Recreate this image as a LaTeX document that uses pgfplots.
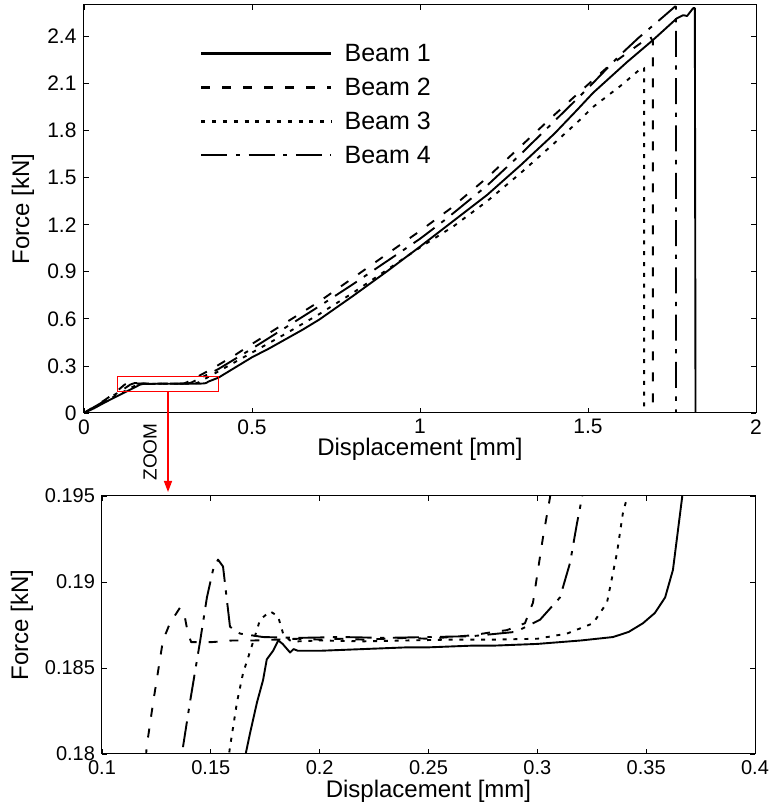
\documentclass[border=0pt]{standalone}
\usepackage{fontspec}
\setmainfont{Liberation Sans}
\usepackage{pgfplots}
\usepackage{pgfplotstable}
\pgfplotsset{compat=1.18}
\usetikzlibrary{arrows.meta}

\pgfplotstableread{
x y
0 0
0.03 0.03
0.06 0.065
0.09 0.098
0.12 0.13
0.15 0.162
0.166 0.18
0.168 0.1812
0.1712 0.1830
0.174 0.1843
0.1757 0.1855
0.1786 0.1860
0.181 0.1866
0.183 0.1864
0.1864 0.1859
0.188 0.1861
0.19 0.1860
0.20 0.1860
0.21 0.18605
0.22 0.1861
0.23 0.18615
0.24 0.1862
0.25 0.1862
0.26 0.18625
0.27 0.1863
0.28 0.1863
0.29 0.18635
0.30 0.1864
0.31 0.1865
0.32 0.1866
0.3348 0.1868
0.3420 0.1871
0.3485 0.1876
0.354 0.1882
0.3587 0.1891
0.3623 0.1907
0.3665 0.1949
0.370 0.2
0.40 0.225
0.45 0.29
0.50 0.355
0.55 0.41
0.60 0.47
0.65 0.53
0.70 0.595
0.80 0.745
0.90 0.90
1.00 1.06
1.10 1.225
1.20 1.39
1.30 1.58
1.40 1.78
1.467 1.93
1.515 2.04
1.616 2.236
1.693 2.376
1.765 2.516
1.783 2.535
1.795 2.53
1.813 2.58
1.818 2.58
1.82 0
}\beamA

\pgfplotstableread{
x y
0 0
0.03 0.04
0.06 0.08
0.09 0.125
0.115 0.17
0.1205 0.1804
0.1235 0.1830
0.128 0.1866
0.1312 0.1876
0.1358 0.1885
0.138 0.1880
0.1395 0.1870
0.141 0.1865
0.15 0.1865
0.16 0.1866
0.17 0.1866
0.18 0.18665
0.19 0.1867
0.20 0.18665
0.21 0.1867
0.22 0.18665
0.23 0.1867
0.24 0.18675
0.25 0.1867
0.26 0.1868
0.27 0.1869
0.28 0.1871
0.286 0.1872
0.2943 0.1876
0.298 0.1888
0.3026 0.1926
0.3058 0.1949
0.31 0.2
0.375 0.274
0.45 0.37
0.50 0.44
0.60 0.575
0.70 0.71
0.80 0.86
0.90 1.01
1.00 1.16
1.089 1.30
1.20 1.50
1.30 1.70
1.40 1.90
1.467 2.03
1.556 2.20
1.62 2.30
1.685 2.40
1.69 2.38
1.693 2.37
1.693 0
}\beamB

\pgfplotstableread{
x y
0 0
0.03 0.035
0.06 0.07
0.09 0.105
0.12 0.138
0.15 0.172
0.1588 0.1804
0.162 0.1830
0.1648 0.1847
0.1694 0.1865
0.1726 0.1878
0.1772 0.1883
0.1809 0.1880
0.1832 0.1870
0.1864 0.1866
0.19 0.18655
0.20 0.1866
0.22 0.18655
0.24 0.1866
0.26 0.18665
0.28 0.18665
0.30 0.1867
0.3136 0.1870
0.3256 0.1876
0.332 0.1888
0.3366 0.1917
0.3393 0.1940
0.3412 0.1949
0.345 0.20
0.40 0.265
0.50 0.385
0.60 0.505
0.70 0.63
0.80 0.765
0.90 0.91
1.00 1.055
1.10 1.19
1.20 1.35
1.30 1.53
1.40 1.72
1.467 1.85
1.515 1.95
1.60 2.09
1.66 2.20
1.667 2.20
1.667 0
}\beamC

\pgfplotstableread{
x y
0 0
0.03 0.038
0.06 0.075
0.09 0.115
0.12 0.155
0.1372 0.1804
0.1404 0.1830
0.145 0.1865
0.1482 0.1891
0.151 0.1907
0.1533 0.1913
0.1556 0.1909
0.1588 0.1874
0.1634 0.1870
0.174 0.1868
0.19 0.18675
0.21 0.1868
0.23 0.18675
0.25 0.1868
0.27 0.18685
0.29 0.1871
0.3012 0.1878
0.3104 0.1891
0.315 0.1911
0.3182 0.1934
0.3205 0.1949
0.325 0.20
0.40 0.28
0.50 0.41
0.60 0.545
0.70 0.68
0.80 0.82
0.90 0.965
1.00 1.11
1.08 1.24
1.20 1.45
1.30 1.65
1.40 1.86
1.50 2.07
1.595 2.28
1.65 2.39
1.724 2.525
1.759 2.59
1.762 2.59
1.762 0
}\beamD

\pgfplotsset{
  myaxis/.style={
    scale only axis,
    anchor=south west,
    tick align=inside,
    major tick length=5pt,
    axis line style={line width=1pt},
    every tick/.style={black,line width=0.8pt},
    xtick pos=both, ytick pos=both,
    label style={font=\fontsize{24}{28}\selectfont},
    clip=true,
  },
  s1/.style={black,line width=1.9pt,line join=round},
  s2/.style={black,line width=1.9pt,line join=round,dash pattern=on 9pt off 12pt},
  s3/.style={black,line width=1.9pt,line join=round,dash pattern=on 4pt off 6.8pt},
  s4/.style={black,line width=1.9pt,line join=round,dash pattern=on 26pt off 8.5pt on 4.3pt off 8.5pt},
}

\begin{document}
\begin{tikzpicture}
\useasboundingbox (0pt,0pt) rectangle (771pt,809pt);
\begin{axis}[myaxis,
  at={(84pt,396pt)}, width=672pt, height=408pt,
  xmin=0, xmax=2, ymin=0, ymax=2.6,
  xtick={0,0.5,1,1.5,2}, xticklabels={0,0.5,1,1.5,2},
  ytick={0,0.3,0.6,0.9,1.2,1.5,1.8,2.1,2.4},
  yticklabels={0,0.3,0.6,0.9,1.2,1.5,1.8,2.1,2.4},
  ticklabel style={font=\fontsize{21}{25}\selectfont},
  xticklabel style={yshift=-3pt},
  yticklabel style={xshift=-4pt},
  xlabel={Displacement [mm]}, ylabel={Force [kN]},
  xlabel style={at={(axis description cs:0.5,-0.105)}, anchor=base},
  ylabel style={at={(axis description cs:-0.0908,0.5)}, anchor=center, rotate=0},
  legend style={at={(axis description cs:0.1726,0.909)}, anchor=north west,
    draw=none, fill=none, font=\fontsize{25}{30}\selectfont,
    inner xsep=0pt, inner ysep=0pt, row sep=11pt,
    nodes={inner xsep=0pt},
    /tikz/every odd column/.append style={column sep=12pt}},
  legend cell align=left,
  legend image code/.code={\draw[#1,line width=2.4pt] (0pt,0pt) -- (130pt,0pt);},
]
\addplot[s1] table[x=x,y=y] {\beamA};
\addplot[s2] table[x=x,y=y] {\beamB};
\addplot[s3] table[x=x,y=y] {\beamC};
\addplot[s4] table[x=x,y=y] {\beamD};
\legend{Beam 1,Beam 2,Beam 3,Beam 4}
\draw[red,line width=0.9pt] (axis cs:0.1,0.135) rectangle (axis cs:0.4,0.23);
\coordinate (zA) at (axis cs:0.25,0.135);
\end{axis}

\begin{axis}[myaxis,
  at={(102pt,55pt)}, width=653pt, height=258pt,
  xmin=0.1, xmax=0.4, ymin=0.18, ymax=0.195,
  restrict y to domain=0.16:0.21,
  restrict x to domain=0:0.5,
  xtick={0.1,0.15,0.2,0.25,0.3,0.35,0.4},
  xticklabels={0.1,0.15,0.2,0.25,0.3,0.35,0.4},
  ytick={0.18,0.185,0.19,0.195},
  yticklabels={0.18,0.185,0.19,0.195},
  ticklabel style={font=\fontsize{20}{24}\selectfont},
  xticklabel style={yshift=-3pt},
  yticklabel style={xshift=-3.5pt},
  xlabel={Displacement [mm]}, ylabel={Force [kN]},
  xlabel style={at={(axis description cs:0.5,-0.1705)}, anchor=base},
  ylabel style={at={(axis description cs:-0.1225,0.5)}, anchor=center, rotate=0},
]
\addplot[s1] table[x=x,y=y] {\beamA};
\addplot[s2] table[x=x,y=y] {\beamB};
\addplot[s3] table[x=x,y=y] {\beamC};
\addplot[s4] table[x=x,y=y] {\beamD};
\coordinate (zB) at (axis cs:0.13,0.195);
\end{axis}

\draw[red,line width=1.4pt,-{Triangle[length=11pt,width=8pt]}] (zA) -- ([yshift=4pt]zA |- zB);
\node[rotate=90,font=\fontsize{19}{22}\selectfont,anchor=center] at (150pt,357pt) {ZOOM};
\end{tikzpicture}
\end{document}
